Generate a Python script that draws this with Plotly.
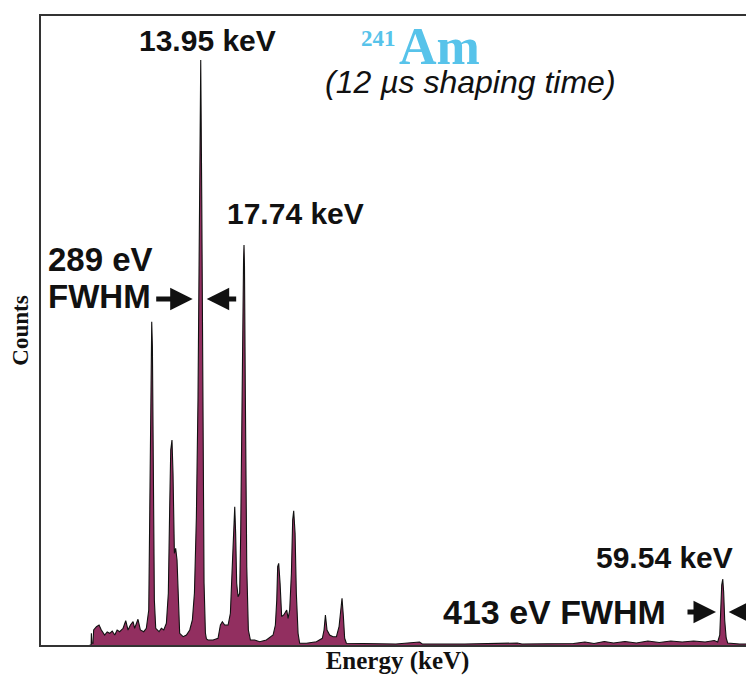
import plotly.graph_objects as go

# Spectrum outline: energy (keV) and counts (arbitrary units)
energy_keV = [
    4.25, 4.38, 4.40, 4.44, 4.54, 4.60, 4.84, 5.07, 5.27, 5.56, 5.78, 6.00, 6.22, 6.44,
    6.65, 6.87, 7.17, 7.40, 7.60, 7.81, 8.04, 8.18, 8.47, 8.68, 8.97, 9.20, 9.41, 9.52,
    9.61, 9.67, 9.73, 9.81, 9.90, 10.02, 10.31, 10.51, 10.72, 10.95, 11.12, 11.24, 11.33,
    11.44, 11.53, 11.65, 11.76, 11.88, 12.00, 12.11, 12.41, 12.70, 12.99, 13.22, 13.40,
    13.57, 13.71, 13.80, 13.89, 13.93, 13.95, 13.97, 14.04, 14.10, 14.15, 14.24, 14.36,
    14.45, 14.59, 15.03, 15.46, 15.67, 15.84, 16.04, 16.34, 16.54, 16.68, 16.80, 16.92,
    17.00, 17.09, 17.21, 17.35, 17.44, 17.53, 17.62, 17.69, 17.73, 17.77, 17.84, 17.97,
    18.11, 18.29, 18.66, 19.10, 19.68, 20.27, 20.47, 20.59, 20.67, 20.76, 20.88, 21.02,
    21.20, 21.34, 21.46, 21.58, 21.72, 21.87, 21.98, 22.07, 22.19, 22.30, 22.45, 22.59,
    23.18, 24.05, 24.57, 24.72, 24.84, 24.98, 25.21, 25.51, 25.80, 26.03, 26.18, 26.29,
    26.41, 26.52, 26.67, 28.71, 31.00, 33.06, 33.30, 37.00, 41.60, 42.00, 46.50, 47.50,
    48.30, 49.20, 50.00, 51.00, 52.00, 53.00, 54.00, 55.00, 56.00, 57.00, 58.00, 58.80,
    59.10, 59.28, 59.36, 59.45, 59.54, 59.62, 59.71, 59.84, 59.97, 61.00, 62.30,
]
counts = [
    0, 0, 117, 20, 17, 150, 183, 200, 150, 100, 130, 117, 140, 100,
    150, 133, 167, 243, 150, 200, 233, 167, 257, 150, 133, 167, 350, 1950,
    2983, 3233, 2983, 1783, 450, 167, 133, 167, 150, 217, 517, 1383, 1950,
    2050, 1717, 917, 967, 850, 317, 117, 83, 100, 150, 250, 520,
    1280, 2450, 3650, 4950, 5700, 5850, 5550, 4450, 3250, 2120, 620, 120,
    60, 50, 50, 67, 200, 233, 200, 200, 317, 717, 1117, 1383,
    1117, 617, 483, 517, 1117, 2450, 3300, 3850, 4000, 3800, 2600, 783,
    150, 50, 50, 33, 50, 100, 200, 450, 783, 817, 617, 283,
    300, 333, 350, 267, 350, 717, 1250, 1343, 1117, 517, 117, 17,
    17, 33, 67, 150, 300, 150, 100, 83, 83, 183, 383, 467,
    283, 67, 17, 17, 10, 30, 10, 10, 20, 10, 15, 30,
    15, 35, 20, 35, 20, 40, 25, 40, 30, 40, 30, 45,
    30, 100, 350, 600, 660, 530, 250, 70, 20, 10, 10,
]

x_range = [0, 62.27]
y_range = [0, 6290]

SANS = "Liberation Sans, Arial, sans-serif"
SERIF = "Liberation Serif, Times New Roman, serif"
BLUE = "#57C3EA"

fig = go.Figure()
fig.add_trace(go.Scatter(
    x=energy_keV, y=counts, mode="lines", fill="tozeroy",
    fillcolor="#922F60", line=dict(color="#111111", width=1.1),
    hoverinfo="x+y", showlegend=False,
))

def label(text, x, y, size, xanchor="center", **kw):
    fig.add_annotation(x=x, y=y, xref="x", yref="y", text=text, showarrow=False,
                       xanchor=xanchor, yanchor="middle",
                       font=dict(family=kw.get("family", SANS), size=size,
                                 color=kw.get("color", "#111111"),
                                 weight=kw.get("weight", "bold"),
                                 style=kw.get("style", "normal")))

def arrow(x, y, ax):
    fig.add_annotation(x=x, y=y, xref="x", yref="y", ax=ax, ay=0, text="",
                       showarrow=True, arrowhead=2, arrowsize=0.9,
                       arrowwidth=5, arrowcolor="#111111")

label("13.95 keV", 14.58, 6050, 30)
label("17.74 keV", 22.24, 4315, 30)
label("289 eV", 0.42, 3860, 33, xanchor="left")
label("FWHM", 0.42, 3485, 33, xanchor="left")
label("59.54 keV", 54.47, 880, 30)
label("413 eV FWHM", 44.86, 330, 34)
label("241", 31.15, 6070, 23, xanchor="right", family=SERIF, color=BLUE)
label("Am", 31.10, 5985, 52, xanchor="left", family=SERIF, color=BLUE)
label("(12 µs shaping time)", 37.53, 5630, 32, weight="normal", style="italic")

arrow(13.25, 3460, -38)
arrow(14.47, 3460, 31)
arrow(58.95, 330, -30)
arrow(60.06, 330, 30)

# the page body adds an 8 px offset, so the figure is 8 px smaller than the window
fig.update_layout(
    width=746, height=667,
    margin=dict(l=33, r=0, t=8, b=30, autoexpand=False),
    paper_bgcolor="white", plot_bgcolor="white",
    showlegend=False,
    xaxis=dict(range=x_range, showline=True, mirror=True, linecolor="#333333",
               linewidth=1.5, showgrid=False, zeroline=False, showticklabels=False,
               ticks="", automargin=False,
               title=dict(text="Energy (keV)", standoff=8,
                          font=dict(family=SERIF, size=25, color="#111111", weight="bold"))),
    yaxis=dict(range=y_range, showline=True, mirror=False, linecolor="#333333",
               linewidth=1.5, showgrid=False, zeroline=False, showticklabels=False,
               ticks="", automargin=False,
               title=dict(text="Counts", standoff=6,
                          font=dict(family=SERIF, size=23, color="#111111", weight="bold"))),
)

fig.write_html("out.html")
